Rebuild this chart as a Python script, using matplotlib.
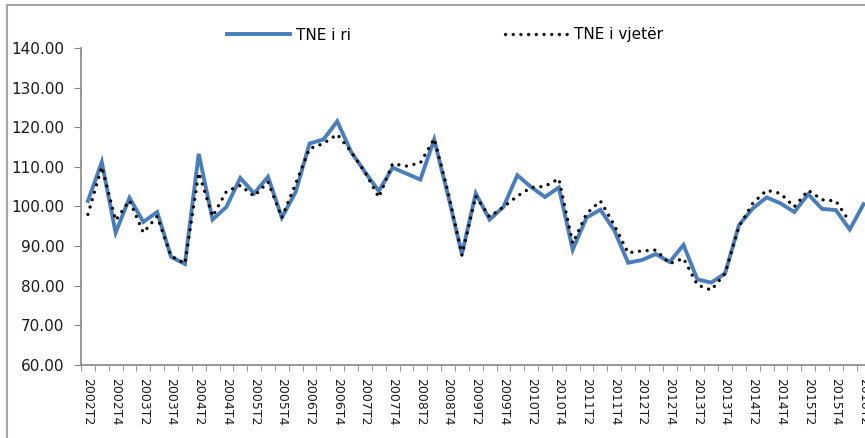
import matplotlib
matplotlib.use("Agg")
import matplotlib.pyplot as plt
import numpy as np
from matplotlib.patches import Rectangle

quarters = []
for y in range(2002, 2017):
    for q in range(1, 5):
        quarters.append(f"{y}T{q}")
quarters = quarters[1:quarters.index("2016T2") + 1]

tne_ri = [101.4, 111.2, 93.4, 102.2, 96.1, 98.6, 87.3, 85.5, 113.3, 96.7,
          99.9, 107.2, 103.3, 107.5, 97.2, 103.7, 115.9, 116.9, 121.5, 113.8,
          108.7, 103.9, 109.8, 108.3, 106.8, 116.9, 102.8, 88.0, 103.3, 96.7,
          99.9, 107.9, 104.9, 102.4, 104.8, 89.1, 97.2, 99.2, 94.0, 85.8,
          86.5, 88.0, 86.0, 90.3, 81.6, 80.8, 83.1, 95.3, 99.5, 102.3,
          100.8, 98.6, 103.1, 99.4, 99.1, 94.2, 100.6]
tne_vjeter = [98.0, 110.0, 96.5, 101.5, 93.4, 97.5, 87.5, 85.6, 108.5, 97.5,
              103.8, 105.3, 102.6, 106.2, 97.2, 105.8, 114.6, 115.9, 118.2, 113.8,
              108.7, 102.3, 110.8, 110.2, 111.0, 117.1, 103.7, 87.7, 102.6, 97.4,
              99.9, 102.6, 104.8, 105.1, 107.0, 90.7, 98.2, 101.4, 95.3, 88.3,
              88.8, 89.0, 85.6, 86.9, 80.2, 78.9, 83.1, 94.9, 100.8, 104.1,
              103.3, 99.9, 104.1, 101.7, 101.4, 96.1, np.nan]

W, H = 865, 438
fig = plt.figure(figsize=(W / 100, H / 100), dpi=100)
fig.patch.set_facecolor("white")

ax = fig.add_axes([81 / W, 1 - 365 / H, 789.5 / W, (365 - 48) / H])
x = np.arange(len(quarters))
l1, = ax.plot(x, tne_ri, color="#4A7EBB", lw=2.8, solid_joinstyle="miter", label="TNE i ri", zorder=2)
l2, = ax.plot(x, tne_vjeter, color="black", lw=2.4, linestyle=(0, (0.01, 2.3)),
              dash_capstyle="round", label="TNE i vjetër", zorder=3)

ax.set_xlim(-0.5, len(quarters) - 0.5)
ax.set_ylim(60, 140)
ax.set_yticks(np.arange(60, 141, 10))
ax.set_yticklabels([f"{v:.2f}" for v in np.arange(60, 141, 10)], fontsize=11, color="#1a1a1a")
ax.set_xticks(x[::2])
ax.set_xticklabels(quarters[::2], rotation=-90, fontsize=9, color="#1a1a1a")
ax.set_xticks(np.arange(-0.5, len(quarters), 1), minor=True)
ax.tick_params(axis="x", which="major", length=0, pad=9)
ax.tick_params(axis="x", which="minor", length=4, direction="out", color="#868686")
ax.tick_params(axis="y", length=5, direction="out", color="#868686", pad=7)
for s in ["top", "right"]:
    ax.spines[s].set_visible(False)
for s in ["left", "bottom"]:
    ax.spines[s].set_color("#868686")
    ax.spines[s].set_linewidth(1.2)

fig.legend(handles=[l1, l2], loc="center left", bbox_to_anchor=(227 / W, 1 - 35 / H),
           ncol=2, frameon=False, fontsize=11, handlelength=4.1, handletextpad=0.4,
           columnspacing=10.1, borderpad=0, borderaxespad=0)

fig.add_artist(Rectangle((7 / W, -0.1), 1.2, 1.1 - 5 / H, transform=fig.transFigure,
                         fill=False, edgecolor="#a6a6a6", lw=1.5))

fig.savefig("out.png", dpi=100)
